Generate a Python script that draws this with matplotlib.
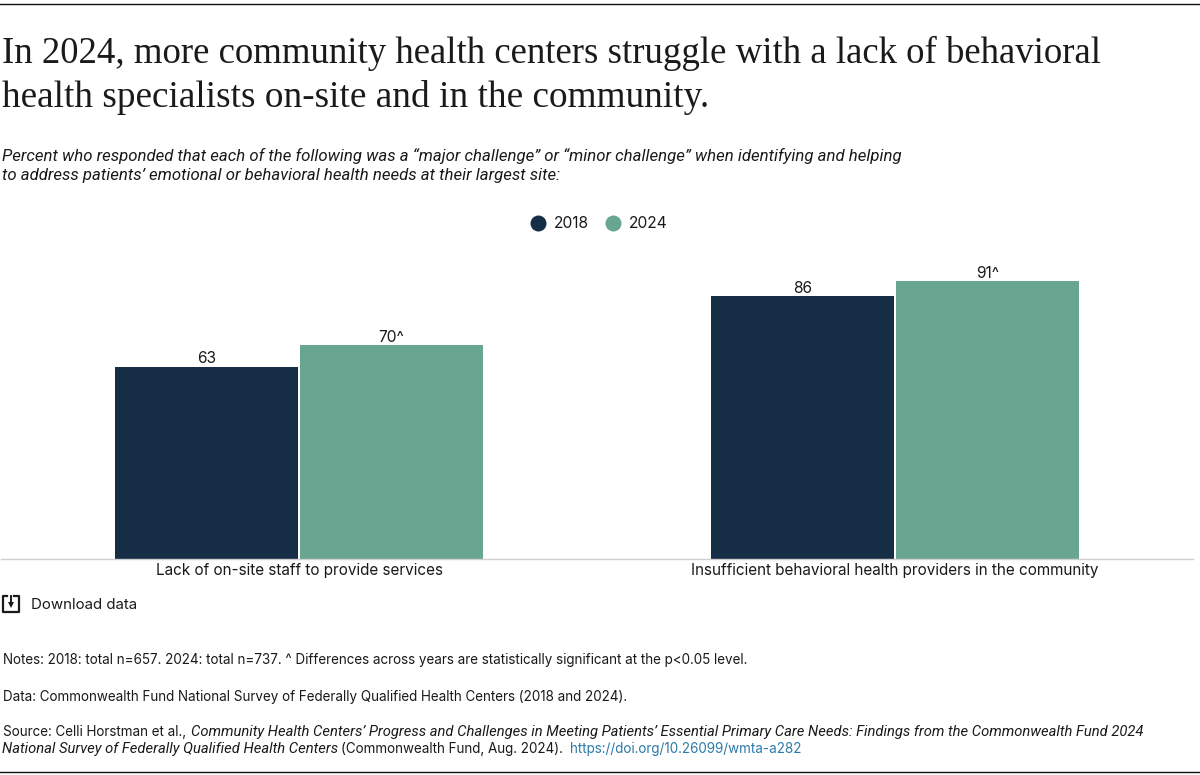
import numpy as np
import matplotlib.pyplot as plt

categories = ["Lack of on-site staff to provide services", "Insufficient behavioral health providers in the community"]
years = ["2018", "2024"]
vals_2018 = [63, 86]
vals_2024 = [70, 91]
labels_2018 = ["63", "86"]
labels_2024 = ["70^", "91^"]

clr_2018 = "#162d46"
clr_2024 = "#68a692"
txt_clr = "#1a1a1a"
W, H = 1200, 775
sans = "Inter"
ital = "Roboto"

fig = plt.figure(figsize=(12, 7.75), dpi=100)


def px_text(x, y, s, **kw):
    # x, y in image pixels, y from the top
    kw.setdefault("color", txt_clr)
    kw.setdefault("va", "baseline")
    kw.setdefault("family", sans)
    return fig.text(x / W, 1 - y / H, s, **kw)


def px_line(xs, ys, **kw):
    fig.add_artist(plt.Line2D(np.array(xs) / W, 1 - np.array(ys) / H, **kw))


def next_x(t):
    bb = t.get_window_extent(fig.canvas.get_renderer())
    return bb.x1


# top and bottom rules
for y in [3.5, 771.5]:
    px_line([0, W], [y, y], color="#111111", lw=1.0)

px_text(2, 63, "In 2024, more community health centers struggle with a lack of behavioral", fontsize=26.5, family="Liberation Serif")
px_text(2, 107, "health specialists on-site and in the community.", fontsize=26.8, family="Liberation Serif")

px_text(2, 161, "Percent who responded that each of the following was a “major challenge” or “minor challenge” when identifying and helping", fontsize=12.1, family=ital, style="italic")
px_text(2, 180, "to address patients’ emotional or behavioral health needs at their largest site:", fontsize=12.1, family=ital, style="italic")

# chart
ax = fig.add_axes([1 / W, 1 - 559 / H, 1192 / W, (559 - 250) / H])
x = np.arange(len(categories))
bar_w = 0.307
bars1 = ax.bar(x - 0.155, vals_2018, bar_w, color=clr_2018)
bars2 = ax.bar(x + 0.155, vals_2024, bar_w, color=clr_2024)
ax.bar_label(bars1, labels=labels_2018, padding=0.3, fontsize=11.2, family=sans, color=txt_clr)
ax.bar_label(bars2, labels=labels_2024, padding=0.3, fontsize=11.2, family=sans, color=txt_clr)
ax.set_xlim(-0.5, 1.5)
ax.set_ylim(0, (559 - 250) / 3.055)
ax.set_yticks([])
ax.set_xticks(x, categories, fontsize=11.0, family=sans, color=txt_clr)
ax.tick_params(axis="x", length=0, pad=3)
for side in ["top", "left", "right"]:
    ax.spines[side].set_visible(False)
ax.spines["bottom"].set_color("#cfcfcf")
ax.spines["bottom"].set_linewidth(1)

# legend
for xc, yr, c in [(538, years[0], clr_2018), (613, years[1], clr_2024)]:
    px_line([xc], [223], marker="o", ms=11.5, color=c, mew=0)
    px_text(xc + 16, 228, yr, fontsize=11.2)

# download icon
px_line([7, 2.5, 2.5, 18.5, 18.5, 14], [596, 596, 612, 612, 596, 596], color=txt_clr, lw=1.6, solid_joinstyle="round")
px_line([10.5, 10.5], [596, 603], color=txt_clr, lw=1.4)
px_line([10.5], [605], marker="v", ms=5, color=txt_clr, mew=0)
px_text(31, 609, "Download data", fontsize=10.8)

# footer
fs = 9.7
fs_it = 10.6
px_text(3, 664, "Notes: 2018: total n=657. 2024: total n=737. ^ Differences across years are statistically significant at the p<0.05 level.", fontsize=fs)
px_text(3, 701, "Data: Commonwealth Fund National Survey of Federally Qualified Health Centers (2018 and 2024).", fontsize=fs)
t = px_text(3, 736, "Source: Celli Horstman et al., ", fontsize=fs)
px_text(next_x(t) + 1, 736, "Community Health Centers’ Progress and Challenges in Meeting Patients’ Essential Primary Care Needs: Findings from the Commonwealth Fund 2024", fontsize=fs_it, family=ital, style="italic")
t = px_text(2, 753, "National Survey of Federally Qualified Health Centers", fontsize=fs_it, family=ital, style="italic")
t = px_text(next_x(t) + 3, 753, "(Commonwealth Fund, Aug. 2024). ", fontsize=fs)
px_text(next_x(t) + 3, 753, "https://doi.org/10.26099/wmta-a282", fontsize=fs, color="#2b7aa8")

fig.savefig("out.png", dpi=100)
